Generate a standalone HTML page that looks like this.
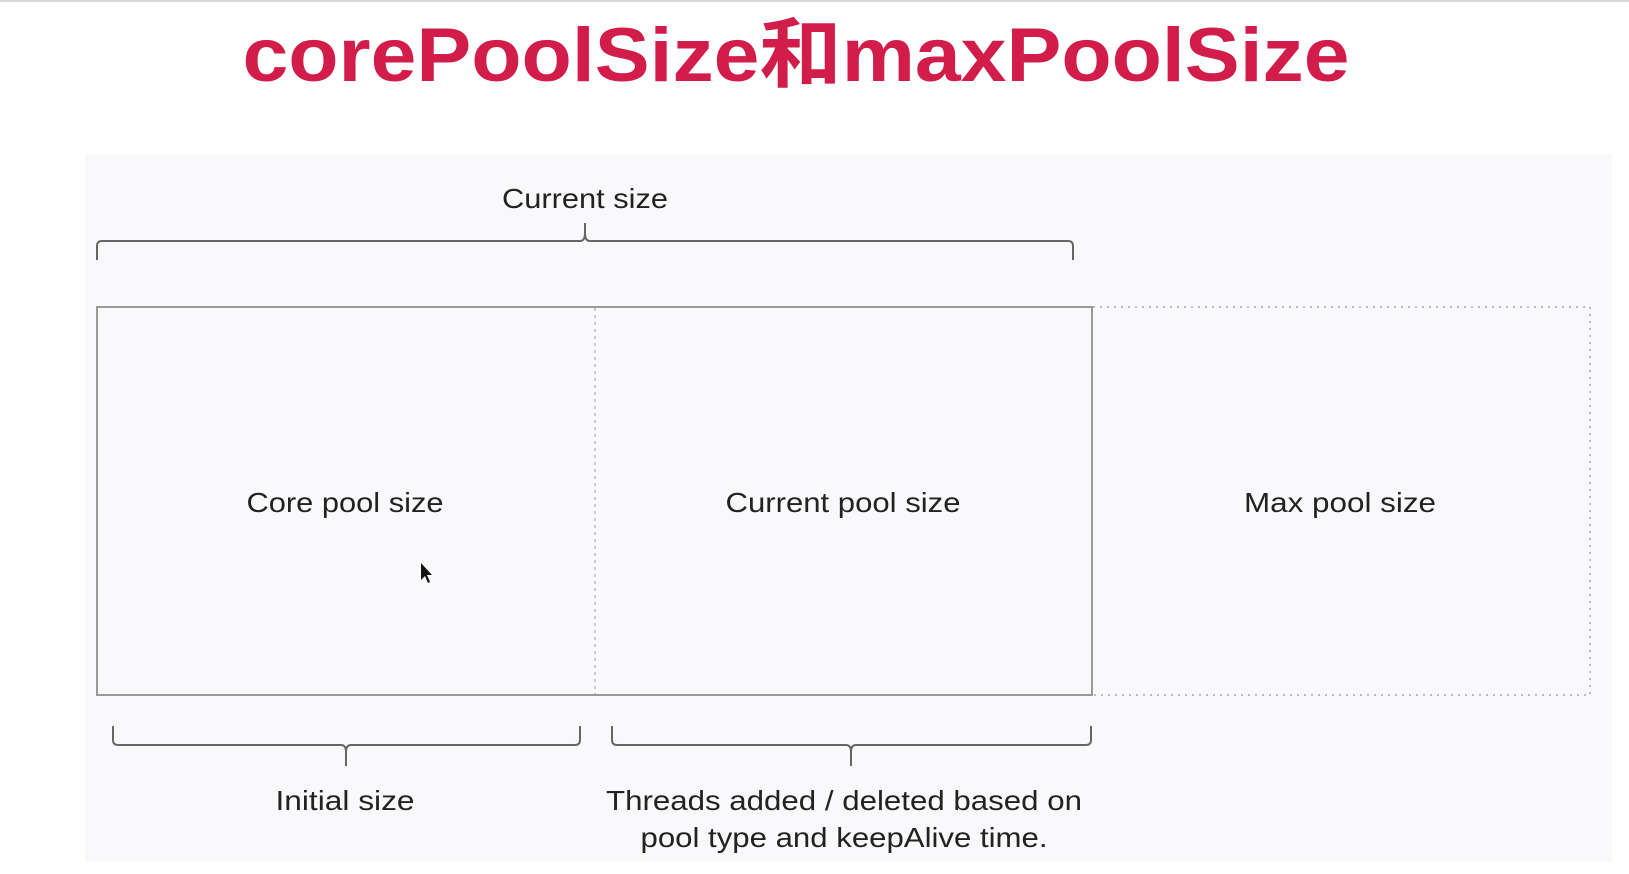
<!DOCTYPE html>
<html><head><meta charset="utf-8"><style>
html,body{margin:0;padding:0;background:#fff;width:1629px;height:874px;overflow:hidden}
svg{display:block}
</style></head><body>
<svg width="1629" height="874" viewBox="0 0 1629 874" xmlns="http://www.w3.org/2000/svg">
<rect x="0" y="0" width="1629" height="2" fill="#d8d8d8"/>
<rect x="85" y="154" width="1527" height="708" fill="#f9f9fb"/>
<text x="796" y="81" text-anchor="middle" font-family="Liberation Sans, 'Noto Sans CJK SC', sans-serif" font-weight="bold" font-size="76" fill="#d21d4a" textLength="1107" lengthAdjust="spacingAndGlyphs">corePoolSize和maxPoolSize</text>
<g font-family="Liberation Sans, sans-serif" font-size="28" fill="#222" text-anchor="middle">
<text x="585" y="208" textLength="166" lengthAdjust="spacingAndGlyphs">Current size</text>
<text x="345" y="512" textLength="197" lengthAdjust="spacingAndGlyphs">Core pool size</text>
<text x="843" y="512" textLength="235" lengthAdjust="spacingAndGlyphs">Current pool size</text>
<text x="1340" y="512" textLength="192" lengthAdjust="spacingAndGlyphs">Max pool size</text>
<text x="345" y="810" textLength="139" lengthAdjust="spacingAndGlyphs">Initial size</text>
<text x="844" y="810" textLength="476" lengthAdjust="spacingAndGlyphs">Threads added / deleted based on</text>
<text x="844" y="847" textLength="407" lengthAdjust="spacingAndGlyphs">pool type and keepAlive time.</text>
</g>
<g fill="none" stroke="#666" stroke-width="2">
<path d="M97 260 L97 246 Q97 241 102 241 L580 241 Q585 241 585 233 L585 223 M585 233 Q585 241 590 241 L1068 241 Q1073 241 1073 246 L1073 260"/>
<path d="M113 726 L113 740 Q113 745 118 745 L341 745 Q346 745 346 752 L346 766 M346 752 Q346 745 351 745 L575 745 Q580 745 580 740 L580 726"/>
<path d="M612 726 L612 740 Q612 745 617 745 L846 745 Q851 745 851 752 L851 766 M851 752 Q851 745 856 745 L1086 745 Q1091 745 1091 740 L1091 726"/>
</g>
<rect x="97" y="307" width="995" height="388" fill="none" stroke="#999" stroke-width="2"/>
<line x1="595" y1="308" x2="595" y2="694" stroke="#bbb" stroke-width="1.5" stroke-dasharray="3 4"/>
<path d="M1093 307 L1590 307 L1590 695 L1093 695" fill="none" stroke="#bbb" stroke-width="2" stroke-dasharray="2 5"/>
<path d="M421 563 L421 580 L425 576 L428 583 L430 582 L427 575 L432 575 Z" fill="#111"/>
</svg>
</body></html>
